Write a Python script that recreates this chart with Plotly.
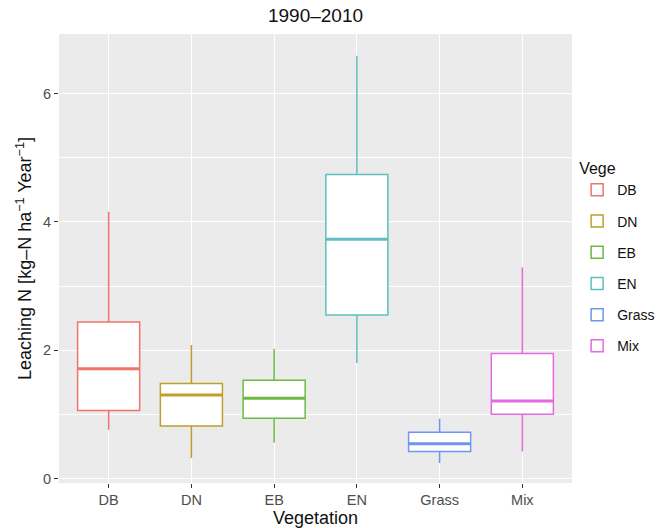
import plotly.graph_objects as go

# Vegetation classes and box statistics of leaching N (1990–2010)
categories = ["DB", "DN", "EB", "EN", "Grass", "Mix"]
lower_whisker = [0.76, 0.32, 0.56, 1.80, 0.24, 0.42]
q1 = [1.06, 0.82, 0.94, 2.55, 0.42, 1.00]
median = [1.71, 1.30, 1.25, 3.73, 0.54, 1.21]
q3 = [2.44, 1.48, 1.53, 4.74, 0.72, 1.95]
upper_whisker = [4.16, 2.08, 2.02, 6.59, 0.93, 3.29]
y_ticks = [0, 2, 4, 6]

colors = ["#EE746C", "#BFA02E", "#6CBB45", "#5FBEC1", "#6E95F6", "#E36AE2"]
box_w = 0.75
FONT = "Liberation Sans, Arial, Helvetica, sans-serif"

fig = go.Figure()
for i, cat in enumerate(categories):
    fig.add_trace(go.Box(
        x=[i], q1=[q1[i]], median=[median[i]], q3=[q3[i]],
        lowerfence=[lower_whisker[i]], upperfence=[upper_whisker[i]],
        name=cat, legendgroup=cat,
        width=box_w, whiskerwidth=0,
        fillcolor="white", line=dict(color=colors[i], width=1.5),
        boxpoints=False, hoverinfo="skip",
    ))
    # thicker median bar
    fig.add_trace(go.Scatter(
        x=[i - box_w / 2, i + box_w / 2], y=[median[i], median[i]],
        mode="lines", line=dict(color=colors[i], width=3),
        showlegend=False, legendgroup=cat, hoverinfo="skip",
    ))

fig.update_layout(
    width=668, height=528,
    margin=dict(l=59, r=96, t=34, b=45, autoexpand=False),
    paper_bgcolor="white", plot_bgcolor="#EBEBEB",
    font=dict(family=FONT, color="#222222"),
    boxmode="overlay",
    title=dict(text="1990–2010", x=((59 + 572) / 2) / 668, xanchor="center",
               xref="container", y=1 - 15 / 528, yref="container",
               yanchor="middle", font=dict(size=19, color="#111111")),
    showlegend=True,
    legend=dict(
        title=dict(text="Vege", font=dict(size=16, color="#111111")),
        x=1.01, xanchor="left", y=0.734, yanchor="top",
        font=dict(size=14, color="#111111"), tracegroupgap=10,
        bgcolor="rgba(0,0,0,0)",
    ),
)

fig.update_xaxes(
    range=[-0.6, 5.6], tickvals=list(range(len(categories))), ticktext=categories,
    showgrid=True, gridcolor="white", gridwidth=1.2, zeroline=False,
    ticks="outside", ticklen=4, tickcolor="#333333", tickwidth=1,
    tickfont=dict(size=14.5, color="#4D4D4D"), automargin=False,
    title=dict(text="Vegetation", font=dict(size=18, color="#111111"), standoff=2),
)
fig.update_yaxes(
    range=[-0.07, 6.93], tickvals=y_ticks,
    showgrid=True, gridcolor="white", gridwidth=1.2, zeroline=False,
    minor=dict(dtick=1, tick0=1, showgrid=True, gridcolor="white", gridwidth=0.6),
    ticks="outside", ticklen=4, tickcolor="#333333", tickwidth=1,
    tickfont=dict(size=14.5, color="#4D4D4D"), automargin=False,
    title=dict(text="Leaching N [kg–N ha<sup>−1</sup> Year<sup>−1</sup>]",
               font=dict(size=18, color="#111111"), standoff=6),
)

fig.write_html("out.html")
